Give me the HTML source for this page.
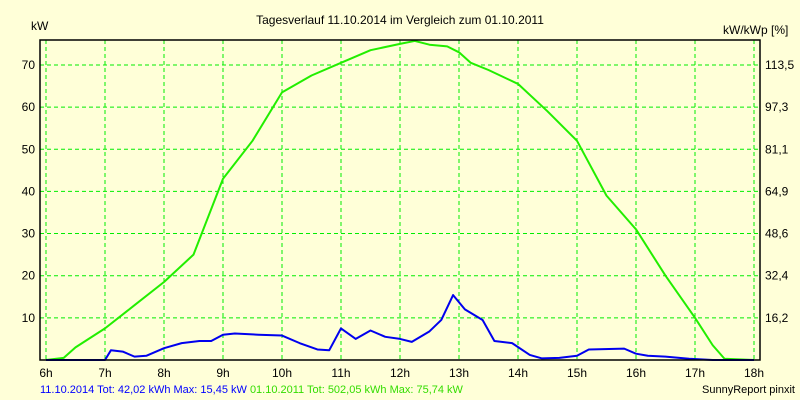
<!DOCTYPE html>
<html><head><meta charset="utf-8"><style>
html,body{margin:0;padding:0;background:#ffffd8;}
svg{display:block;font-family:"Liberation Sans",sans-serif;}
</style></head><body>
<svg id="c" width="800" height="400" viewBox="0 0 800 400">
<rect x="0" y="0" width="800" height="400" fill="#ffffd8"/>
<text x="400" y="24" text-anchor="middle" font-size="12" fill="#000">Tagesverlauf 11.10.2014 im Vergleich zum 01.10.2011</text>
<text x="31" y="30" font-size="12" fill="#000">kW</text>
<text x="723" y="34" font-size="12" fill="#000">kW/kWp [%]</text>
<g id="grid"></g>
<g id="series"></g>
<rect x="40" y="40" width="720" height="320" fill="none" stroke="#000" stroke-width="1.5"/>
<g id="labels"></g>
<text x="40" y="393" font-size="11" fill="#0000ff">11.10.2014 Tot: 42,02 kWh Max: 15,45 kW <tspan fill="#33dd00">01.10.2011 Tot: 502,05 kWh Max: 75,74 kW</tspan></text>
<text x="795" y="393" text-anchor="end" font-size="11" fill="#000">SunnyReport pinxit</text>
</svg>
<script>
const xTicks=[6,7,8,9,10,11,12,13,14,15,16,17,18];
const yTicks=[10,20,30,40,50,60,70];
const yRightLabels=["16,2","32,4","48,6","64,9","81,1","97,3","113,5"];
const t2011=[6,6.3,6.5,7,7.5,8,8.5,9,9.5,10,10.5,11,11.5,12,12.25,12.5,12.8,13,13.2,13.5,14,14.5,15,15.5,16,16.5,17,17.3,17.5,18];
const v2011=[0,0.5,3,7.5,13,18.5,25,43,52,63.5,67.5,70.5,73.5,75,75.7,74.8,74.4,73,70.5,68.8,65.5,59,52,39,31,20,10,3.5,0.3,0];
const t2014=[6,6.2,7,7.1,7.3,7.5,7.7,8,8.3,8.6,8.8,9,9.2,9.6,10,10.3,10.6,10.8,11,11.25,11.5,11.75,12,12.2,12.5,12.7,12.9,13.1,13.4,13.6,13.9,14.2,14.4,14.7,15,15.2,15.8,16,16.2,16.5,16.9,17.3,18];
const v2014=[0,0,0,2.3,2,0.8,1,2.8,4,4.5,4.5,6,6.3,6,5.8,4,2.5,2.3,7.5,5,7,5.5,5,4.3,6.8,9.5,15.4,12,9.5,4.5,4,1.2,0.4,0.5,1,2.5,2.7,1.5,1,0.8,0.3,0,0];
const NS="http://www.w3.org/2000/svg";
const X=h=>46+(h-6)*59;
const Y=v=>360-v*4.215;
function mk(tag,attrs,parent){const e=document.createElementNS(NS,tag);for(const k in attrs)e.setAttribute(k,attrs[k]);parent.appendChild(e);return e;}
const grid=document.getElementById('grid'),lab=document.getElementById('labels'),ser=document.getElementById('series');
xTicks.forEach(h=>{
 const l=mk('line',{x1:X(h),x2:X(h),y1:40,y2:360,stroke:'#00ee00','stroke-dasharray':'4,3'},grid);
 
 
 const t=mk('text',{x:X(h),y:377,'text-anchor':'middle','font-size':12},lab);t.textContent=h+'h';
 
 
});
yTicks.forEach((v,i)=>{
 const l=mk('line',{x1:40,x2:760,y1:Y(v),y2:Y(v),stroke:'#00ee00','stroke-dasharray':'4,3'},grid);
 
 
 const t=mk('text',{x:35,y:Y(v)+4,'text-anchor':'end','font-size':12},lab);t.textContent=v;
 
 
 const r=mk('text',{x:765,y:Y(v)+4,'font-size':12},lab);r.textContent=yRightLabels[i];
 
 
});
function line(ts,vs,color,name){
 const p=mk('polyline',{points:ts.map((t,i)=>X(t)+','+Y(vs[i])).join(' '),fill:'none',stroke:color,'stroke-width':2,'stroke-linejoin':'round'},ser);
 
 
}
line(t2011,v2011,'#22ee00','series-2011');
line(t2014,v2014,'#0000ee','series-2014');
</script>
</body></html>
